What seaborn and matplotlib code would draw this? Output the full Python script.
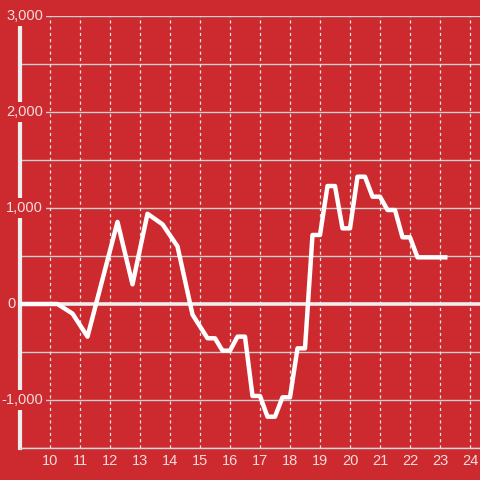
import matplotlib
matplotlib.use("Agg")
import matplotlib.pyplot as plt
import seaborn as sns
import pandas as pd

# data
hours = [9.0, 10.25, 10.75, 11.25, 12.25, 12.75, 13.25, 13.75, 14.25, 14.75,
         15.25, 15.5, 15.75, 16.0, 16.25, 16.5, 16.75, 17.0, 17.25, 17.5,
         17.75, 18.0, 18.25, 18.5, 18.75, 19.0, 19.25, 19.5, 19.75, 20.0,
         20.25, 20.5, 20.75, 21.0, 21.25, 21.5, 21.75, 22.0, 22.25, 23.25]
values = [0, 0, -100, -340, 855, 205, 940, 830, 600, -110,
          -357, -357, -486, -486, -340, -340, -958, -958, -1174, -1174,
          -972, -972, -462, -462, 719, 719, 1229, 1229, 788, 788,
          1326, 1326, 1118, 1118, 979, 979, 695, 695, 486, 486]
x_ticks = list(range(10, 25))
y_label_vals = [3000, 2000, 1000, 0, -1000]
y_label_txt = ["3,000", "2,000", "1,000", "0", "-1,000"]
y_grid = [-1500, -1000, -500, 500, 1000, 1500, 2000, 2500, 3000]

BG = "#cc2a2f"
TXT = "#f5dcdc"

sns.set_theme(style="white")
plt.rcParams["font.family"] = ["Liberation Sans", "DejaVu Sans"]

fig = plt.figure(figsize=(4.8, 4.8), dpi=100, facecolor=BG)
ax = fig.add_axes([20 / 480, 32 / 480, 460 / 480, 432 / 480])
ax.set_facecolor(BG)

ax.set_xlim(9, 9 + 460 / 30)
ax.set_ylim(-1500, 3000)

for yv in y_grid:
    ax.axhline(yv, color="#cfcfcf", lw=1.0, zorder=1)
for xv in x_ticks:
    ax.axvline(xv, color="#e6e6e6", lw=0.9, ls=(0, (2.5, 2.5)), zorder=1)
ax.axhline(0, color="#eeeeee", lw=2.6, zorder=2)

df = pd.DataFrame({"hour": hours, "value": values})
sns.lineplot(data=df, x="hour", y="value", ax=ax, color="white", lw=3.2,
             zorder=4, solid_joinstyle="round", solid_capstyle="butt")

for s in ["top", "right"]:
    ax.spines[s].set_visible(False)
ax.spines["left"].set_color("#eeeeee")
ax.spines["left"].set_linewidth(3)
ax.spines["bottom"].set_color("#d8d8d8")
ax.spines["bottom"].set_linewidth(1)

ax.set_xticks(x_ticks)
ax.set_xticklabels([str(t) for t in x_ticks])
ax.tick_params(axis="x", length=0, pad=4, labelsize=10.5, colors=TXT)
ax.set_yticks([])
ax.set_xlabel("")
ax.set_ylabel("")

for yv, txt in zip(y_label_vals, y_label_txt):
    if txt == "0":
        ax.annotate(txt, xy=(16, yv), xycoords=("figure pixels", "data"),
                    ha="right", va="center", fontsize=10.5, color=TXT,
                    zorder=6, annotation_clip=False)
    else:
        ax.annotate(txt, xy=(43, yv), xycoords=("figure pixels", "data"),
                    ha="right", va="center", fontsize=10.5, color=TXT,
                    zorder=6, annotation_clip=False,
                    bbox=dict(boxstyle="square,pad=0.2", fc=BG, ec="none"))

fig.savefig("out.png", dpi=100, facecolor=BG)
